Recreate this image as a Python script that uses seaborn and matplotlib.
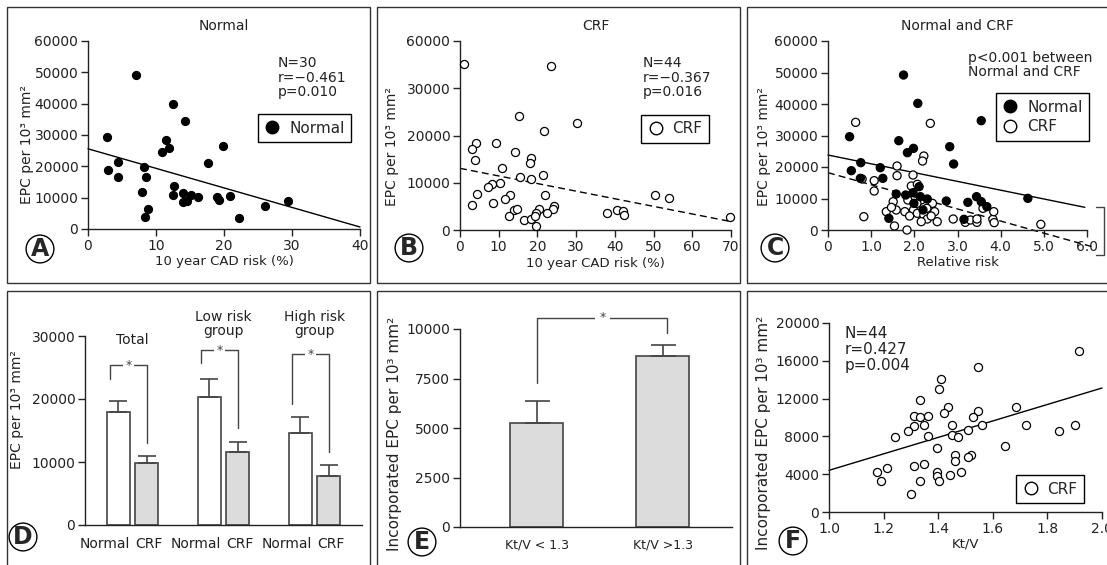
import matplotlib
matplotlib.use('Agg')
import matplotlib.pyplot as plt
from matplotlib.lines import Line2D
from matplotlib.patches import Rectangle
import numpy as np
import pandas as pd
import seaborn as sns

W, H = 1107, 565

# A: normal subjects, EPC vs 10 year CAD risk
risk_normal = [7.0, 2.8, 3.0, 4.4, 4.4, 12.5, 14.2, 11.4, 11.9, 10.9, 19.8, 17.6, 8.3, 8.6, 7.9,
               8.8, 8.4, 12.6, 12.5, 14.0, 13.9, 14.6, 15.1, 16.2, 19.0, 19.3, 20.9, 22.2, 26.0, 29.4]
epc_normal = [49060, 29520, 18900, 21450, 16460, 40040, 34620, 28250, 25810, 24430, 26340, 21030, 19650,
              16460, 11890, 6480, 3930, 13810, 10940, 11470, 8500, 8810, 10730, 10090, 10200, 9130,
              10620, 3400, 7430, 8810]
fit_normal = (25600, -624)

# B: CRF patients (top tick is labelled 60000 in the original)
risk_crf = [1.0, 23.4, 15.3, 30.2, 21.6, 4.1, 9.3, 3.0, 14.1, 3.9, 18.4, 18.1, 10.8, 21.4, 15.5, 18.3,
            10.3, 8.2, 7.2, 4.5, 22.0, 12.9, 11.6, 8.4, 3.0, 24.3, 14.0, 24.1, 20.4, 19.7, 22.4, 12.7,
            16.6, 18.3, 19.6, 37.9, 40.5, 42.1, 42.4, 50.4, 53.9, 69.8, 14.7, 19.4]
epc_crf = [35130, 34710, 24200, 22580, 21020, 18480, 18340, 17070, 16580, 14820, 15170, 14110, 13190,
           11640, 11290, 10790, 9880, 9740, 9030, 7620, 7410, 7410, 6490, 5640, 5290, 5150, 4230, 4370,
           4370, 3670, 3530, 2960, 2120, 2330, 920, 3530, 4230, 4020, 3170, 7410, 6700, 2680, 4370, 2960]
fit_crf = (13050, -161)
crf_yticks = [0, 10000, 20000, 30000, 40000]
crf_yticklabels = ['0', '10000', '20000', '30000', '60000']

# C: EPC vs relative risk, both groups
rr_normal = [1.75, 2.08, 3.55, 0.50, 1.64, 2.82, 1.98, 1.84, 2.91, 0.76, 0.54, 1.21, 0.75, 1.27, 2.11,
             1.58, 1.80, 1.97, 2.14, 2.30, 1.99, 2.20, 2.74, 3.44, 3.24, 3.55, 3.68, 3.15, 1.41, 4.63]
rr_epc_normal = [49200, 40200, 34700, 29620, 28350, 26450, 25920, 24550, 20950, 21370, 18830, 19780,
                 16400, 16400, 13750, 11430, 11110, 11850, 10580, 9840, 8460, 6350, 9200, 10580, 8780,
                 8990, 7410, 3390, 3700, 10050]
rr_crf = [0.64, 2.37, 2.22, 2.19, 1.60, 1.60, 1.97, 0.79, 1.07, 1.07, 1.93, 2.07, 1.51, 1.58, 1.98, 2.07,
          2.42, 2.29, 2.22, 2.30, 2.53, 1.35, 0.83, 1.54, 1.83, 2.90, 3.18, 3.30, 3.45, 3.45, 3.82, 3.84,
          3.85, 4.93, 3.59, 1.78, 2.16, 1.85, 2.06, 2.47, 1.89, 1.47, 2.16, 2.39]
rr_epc_crf = [34170, 33860, 23490, 21900, 20310, 17250, 17460, 16190, 15660, 12380, 13970, 14500, 8990,
              6350, 6350, 5290, 8460, 6880, 4760, 3490, 2650, 5820, 4230, 1270, 0, 3490, 2430, 3170,
              2430, 3490, 3390, 5820, 2330, 1800, 6880, 5820, 9520, 9520, 8460, 5820, 4440, 7190, 2650, 4440]
fit_rr_normal = (23800, -2790)
fit_rr_crf = (18200, -3840)

# D: mean EPC by risk group
groups = ['Total', 'Low risk\ngroup', 'High risk\ngroup']
statuses = ['Normal', 'CRF']
mean_normal = [17900, 20300, 14600]
mean_crf = [9900, 11600, 7800]
sem_normal = [1800, 2800, 2500]
sem_crf = [1100, 1600, 1800]
group_label_y = [29400, 31900, 31900]
sig_top = [25350, 27730, 27100]
sig_left = [23130, 25720, 19280]
sig_right = [12940, 15320, 11620]

# E: incorporated EPC by dialysis adequacy
kt_groups = ['Kt/V < 1.3', 'Kt/V >1.3']
kt_mean = [5270, 8620]
kt_sem = [1110, 560]
kt_sig = (10560, 7260, 9800)

# F: incorporated EPC vs Kt/V
ktv = [1.914, 1.545, 1.412, 1.403, 1.334, 1.435, 1.422, 1.545, 1.684, 1.312, 1.334, 1.364, 1.528, 1.312,
       1.349, 1.452, 1.562, 1.721, 1.902, 1.290, 1.510, 1.841, 1.241, 1.364, 1.452, 1.471, 1.394, 1.643,
       1.461, 1.461, 1.520, 1.510, 1.312, 1.349, 1.211, 1.174, 1.394, 1.394, 1.444, 1.482, 1.192, 1.334,
       1.403, 1.302]
epc_ktv = [17070, 15340, 14070, 13010, 11890, 11110, 10470, 10720, 11110, 10190, 10020, 10120, 10020,
           9060, 9170, 9240, 9240, 9240, 9240, 8610, 8710, 8610, 7940, 8010, 8180, 7940, 6770, 7020,
           6070, 5430, 6070, 5820, 4900, 5110, 4660, 4200, 4200, 3770, 3950, 4200, 3240, 3240, 3240, 1900]
fit_ktv = (-4300, 8710)

sns.set_style('ticks')
plt.rcParams['font.family'] = ['DejaVu Sans']
INK = '#222222'
BAR_EDGE = '#444444'
GREY = '#dcdcdc'
DOT = 34

fig = plt.figure(figsize=(W / 100, H / 100), dpi=100)


def axes_px(x0, y0, x1, y1):
    return fig.add_axes([x0 / W, 1 - y1 / H, (x1 - x0) / W, (y1 - y0) / H])


def fig_text(px, py, s, **kw):
    return fig.text(px / W, 1 - py / H, s, **kw)


def style(ax, ylabel, ly, lx, lsize=10):
    sns.despine(ax=ax)
    for side in ['left', 'bottom']:
        ax.spines[side].set_color(INK)
        ax.spines[side].set_linewidth(1)
    ax.tick_params(direction='out', length=5, width=1, colors=INK, labelsize=10, pad=2)
    ax.set_ylabel(ylabel, fontsize=lsize, color=INK)
    ax.yaxis.set_label_coords(lx, ly)


def letter(px, py, s):
    fig_text(px, py, s, ha='center', va='center', fontsize=17, fontweight='bold',
             bbox=dict(boxstyle='circle,pad=0.08', fc='white', ec='black', lw=1))


def fit_line(ax, fit, x0, x1, **kw):
    xs = np.array([x0, x1])
    ax.plot(xs, fit[0] + fit[1] * xs, color='black', lw=1, clip_on=False, **kw)


def key(ax, fills, labels, anchor):
    handles = [Line2D([], [], marker='o', ls='', mfc=f, mec='black', mew=1, ms=9) for f in fills]
    leg = ax.legend(handles, labels, loc='upper right', bbox_to_anchor=anchor, fontsize=11,
                    frameon=True, fancybox=False, edgecolor='black', framealpha=1,
                    handlelength=1.0, handletextpad=0.6, borderpad=0.45, labelspacing=0.3)
    leg.get_frame().set_linewidth(1)


def bar_center(b):
    return b.get_x() + b.get_width() / 2


epc_label = 'EPC per 10³ mm²'
inc_label = 'Incorporated EPC per 10³ mm²'

# panel frames
for x0, y0, x1, y1 in [(7, 7, 370, 283), (377, 7, 740, 283), (747, 7, 1125, 283),
                       (7, 291, 370, 580), (377, 291, 740, 580), (747, 291, 1125, 580)]:
    fig.patches.append(Rectangle((x0 / W, 1 - y1 / H), (x1 - x0) / W, (y1 - y0) / H,
                                 transform=fig.transFigure, fill=False, ec='#333333', lw=1))

# ---- A
ax = axes_px(88, 41, 360, 229)
sns.scatterplot(x=risk_normal, y=epc_normal, ax=ax, s=DOT, color='black', edgecolor='black',
                linewidth=0.8, clip_on=False, zorder=3)
ax.set_xlim(0, 40)
ax.set_ylim(0, 60000)
ax.set_xticks([0, 10, 20, 30, 40])
ax.set_yticks(range(0, 60001, 10000))
fit_line(ax, fit_normal, 0, 40)
style(ax, epc_label, 0.45, -0.2)
ax.set_xlabel('10 year CAD risk (%)', fontsize=9.5, color=INK, labelpad=2)
ax.set_title('Normal', fontsize=10, color=INK, pad=8)
fig_text(278, 56, 'N=30\nr=\u22120.461\np=0.010', fontsize=10, va='top', color=INK, linespacing=1.05)
key(ax, ['black'], ['Normal'], (0.996, 0.654))
letter(40, 249, 'A')

# ---- B
ax = axes_px(460, 41, 731, 230)
sns.scatterplot(x=risk_crf, y=epc_crf, ax=ax, s=DOT, color='white', edgecolor='black',
                linewidth=0.9, clip_on=False, zorder=3)
ax.set_xlim(0, 70)
ax.set_ylim(0, 40000)
ax.set_xticks(range(0, 71, 10))
ax.set_yticks(crf_yticks)
ax.set_yticklabels(crf_yticklabels)
fit_line(ax, fit_crf, 0, 70, ls=(0, (5, 3)))
style(ax, epc_label, 0.44, -0.224)
ax.set_xlabel('10 year CAD risk (%)', fontsize=9.5, color=INK, labelpad=2)
ax.set_title('CRF', fontsize=10, color=INK, pad=8)
fig_text(643, 56, 'N=44\nr=\u22120.367\np=0.016', fontsize=10, va='top', color=INK, linespacing=1.05)
key(ax, ['white'], ['CRF'], (0.948, 0.651))
letter(409, 248, 'B')

# ---- C
ax = axes_px(828, 41, 1087, 230)
df_c = pd.DataFrame({
    'rr': rr_crf + rr_normal,
    'epc': rr_epc_crf + rr_epc_normal,
    'group': ['CRF'] * len(rr_crf) + ['Normal'] * len(rr_normal),
})
sns.scatterplot(data=df_c, x='rr', y='epc', hue='group', palette={'Normal': 'black', 'CRF': 'white'},
                edgecolor='black', linewidth=0.9, s=DOT, ax=ax, legend=False, clip_on=False, zorder=3)
ax.set_xlim(0, 6)
ax.set_ylim(0, 60000)
ax.set_xticks(range(7))
ax.set_xticklabels(['0', '1.0', '2.0', '3.0', '4.0', '5.0', '6.0'])
ax.set_yticks(range(0, 60001, 10000))
fit_line(ax, fit_rr_normal, 0, 5.95)
fit_line(ax, fit_rr_crf, 0, 6.15, ls=(0, (5, 3)))
style(ax, epc_label, 0.44, -0.22)
ax.set_xlabel('Relative risk', fontsize=9.5, color=INK, labelpad=2)
ax.set_title('Normal and CRF', fontsize=10, color=INK, pad=8)
fig_text(968, 51, 'p<0.001 between\nNormal and CRF', fontsize=10, va='top', color=INK, linespacing=1.0)
key(ax, ['black', 'white'], ['Normal', 'CRF'], (1.039, 0.767))
ax.plot([6.22, 6.39, 6.39, 6.22], [7400, 7400, -7900, -7900], color=BAR_EDGE, lw=1, clip_on=False)
ax.text(6.47, -300, '*', fontsize=10, color=BAR_EDGE, ha='left', va='center', clip_on=False)
ax.set_xlim(0, 6)
ax.set_ylim(0, 60000)
letter(775, 248, 'C')

# ---- D
ax = axes_px(85, 336, 362, 525)
df_d = pd.DataFrame({
    'group': groups * 2,
    'status': ['Normal'] * 3 + ['CRF'] * 3,
    'epc': mean_normal + mean_crf,
})
sns.barplot(data=df_d, x='group', y='epc', hue='status', hue_order=statuses,
            palette={'Normal': 'white', 'CRF': GREY}, edgecolor=BAR_EDGE, linewidth=1.2,
            width=0.62, gap=0.18, errorbar=None, legend=False, ax=ax)
# sort bars by group, then Normal (left) / CRF (right)
bars = sorted([p for p in ax.patches if p.get_height() > 0], key=bar_center)
normal_bars, crf_bars = bars[0::2], bars[1::2]
tick_pos, tick_lab, tick_ha = [], [], []
for j in range(len(groups)):
    for b, s in [(normal_bars[j], sem_normal[j]), (crf_bars[j], sem_crf[j])]:
        ax.errorbar([bar_center(b)], [b.get_height()], yerr=[[0], [s]], fmt='none', ecolor=BAR_EDGE,
                    elinewidth=1.2, capsize=6.5, capthick=1.2, zorder=1)
    tick_pos += [normal_bars[j].get_x() + normal_bars[j].get_width(), crf_bars[j].get_x()]
    tick_lab += statuses
    tick_ha += ['right', 'left']
ax.set_xlim(-0.52, 2.52)
ax.set_ylim(0, 30000)
ax.set_yticks([0, 10000, 20000, 30000])
style(ax, epc_label, 0.61, -0.22)
ax.set_xlabel('')
ax.set_xticks(tick_pos)
ax.set_xticklabels(tick_lab)
for t, ha in zip(ax.get_xticklabels(), tick_ha):
    t.set_ha(ha)
ax.tick_params(axis='x', length=0, pad=9, labelsize=10)
for j, g in enumerate(groups):
    ax.text(j, group_label_y[j], g, ha='center', va='center', fontsize=10, color=INK,
            linespacing=1.05, clip_on=False)
    xl = bar_center(normal_bars[j]) - 0.09
    xr = bar_center(crf_bars[j])
    ax.plot([xl, xl, xr, xr], [sig_left[j], sig_top[j], sig_top[j], sig_right[j]],
            color=BAR_EDGE, lw=1, clip_on=False)
    ax.text((xl + xr) / 2, sig_top[j], '*', ha='center', va='center', fontsize=9, color=BAR_EDGE,
            bbox=dict(fc='white', ec='none', pad=1.5), clip_on=False)
letter(23, 537, 'D')

# ---- E
ax = axes_px(460, 329, 732, 527)
sns.barplot(x=kt_groups, y=kt_mean, color=GREY, edgecolor=BAR_EDGE, linewidth=1.2, width=0.42,
            errorbar=None, ax=ax, saturation=1)
bars = sorted([p for p in ax.patches if p.get_height() > 0], key=bar_center)
centers = [bar_center(b) for b in bars]
for cx, b, s in zip(centers, bars, kt_sem):
    ax.errorbar([cx], [b.get_height()], yerr=[[0], [s]], fmt='none', ecolor=BAR_EDGE,
                elinewidth=1.2, capsize=9, capthick=1.2, zorder=1)
ax.set_xlim(-0.61, 1.55)
ax.set_ylim(0, 10000)
ax.set_yticks([0, 2500, 5000, 7500, 10000])
style(ax, inc_label, 0.47, -0.215, lsize=11)
ax.tick_params(axis='x', length=0, pad=8, labelsize=9)
ax.plot([centers[0], centers[0], centers[1] + 0.03, centers[1] + 0.03],
        [kt_sig[1], kt_sig[0], kt_sig[0], kt_sig[2]], color=BAR_EDGE, lw=1, clip_on=False)
ax.text(0.52, kt_sig[0], '*', ha='center', va='center', fontsize=9, color=BAR_EDGE,
        bbox=dict(fc='white', ec='none', pad=3), clip_on=False)
letter(422, 542, 'E')

# ---- F
ax = axes_px(829, 323, 1102, 512)
sns.scatterplot(x=ktv, y=epc_ktv, ax=ax, s=DOT, color='white', edgecolor='black',
                linewidth=0.9, clip_on=False, zorder=3)
ax.set_xlim(1.0, 2.0)
ax.set_ylim(0, 20000)
ax.set_xticks([1.0, 1.2, 1.4, 1.6, 1.8, 2.0])
ax.set_xticklabels(['1.0', '1.2', '1.4', '1.6', '1.8', '2.0'])
ax.set_yticks(range(0, 20001, 4000))
fit_line(ax, fit_ktv, 1.0, 2.0)
style(ax, inc_label, 0.42, -0.212, lsize=11)
ax.set_xlabel('Kt/V', fontsize=9.5, color=INK, labelpad=1)
fig_text(845, 326, 'N=44\nr=0.427\np=0.004', fontsize=11, va='top', color=INK, linespacing=1.1)
key(ax, ['white'], ['CRF'], (0.963, 0.238))
letter(793, 541, 'F')

fig.savefig('out.png', dpi=100)
